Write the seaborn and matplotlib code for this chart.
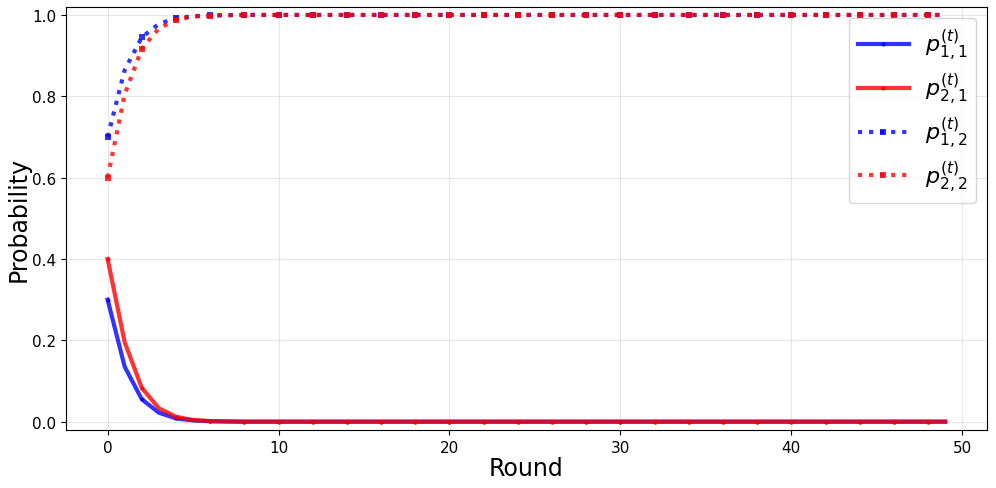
import numpy as np
import pandas as pd
import matplotlib
matplotlib.use("Agg")
import matplotlib.pyplot as plt
import seaborn as sns

# probabilities, rounds 0..49
rounds = list(range(50))
p11 = [0.30, 0.135, 0.055, 0.022, 0.008, 0.003, 0.001, 0.0005] + [0.0] * 42
p21 = [0.40, 0.195, 0.083, 0.033, 0.012, 0.004, 0.0015, 0.0005] + [0.0] * 42
p12 = [0.70, 0.865, 0.945, 0.978, 0.992, 0.997, 0.999, 0.9995] + [1.0] * 42
p22 = [0.60, 0.805, 0.917, 0.967, 0.988, 0.996, 0.9985, 0.9995] + [1.0] * 42

fig, ax = plt.subplots(figsize=(9.96, 4.89), dpi=100)

sns.lineplot(x=rounds, y=p11, ax=ax, color="blue", lw=3, alpha=0.8, marker="o",
             markersize=3, markevery=2, markeredgewidth=0, label=r"$p_{1,1}^{(t)}$")
sns.lineplot(x=rounds, y=p21, ax=ax, color="red", lw=3, alpha=0.8, marker="o",
             markersize=3, markevery=2, markeredgewidth=0, label=r"$p_{2,1}^{(t)}$")
sns.lineplot(x=rounds, y=p12, ax=ax, color="blue", lw=3, alpha=0.8, ls=":", marker="s",
             markersize=4, markevery=2, markeredgewidth=0, label=r"$p_{1,2}^{(t)}$")
sns.lineplot(x=rounds, y=p22, ax=ax, color="red", lw=3, alpha=0.8, ls=":", marker="s",
             markersize=4, markevery=2, markeredgewidth=0, label=r"$p_{2,2}^{(t)}$")

ax.set_ylim(-0.02, 1.02)
ax.set_xlabel("Round", fontsize=17, labelpad=1)
ax.set_ylabel("Probability", fontsize=17, labelpad=1)
ax.tick_params(labelsize=11)
ax.grid(True, alpha=0.3)
ax.legend(fontsize=16, loc="upper right", labelspacing=0.38,
          handlelength=2.3, handletextpad=0.7)

plt.subplots_adjust(left=0.066, right=0.991, top=0.984, bottom=0.119)
plt.savefig("out.png")
